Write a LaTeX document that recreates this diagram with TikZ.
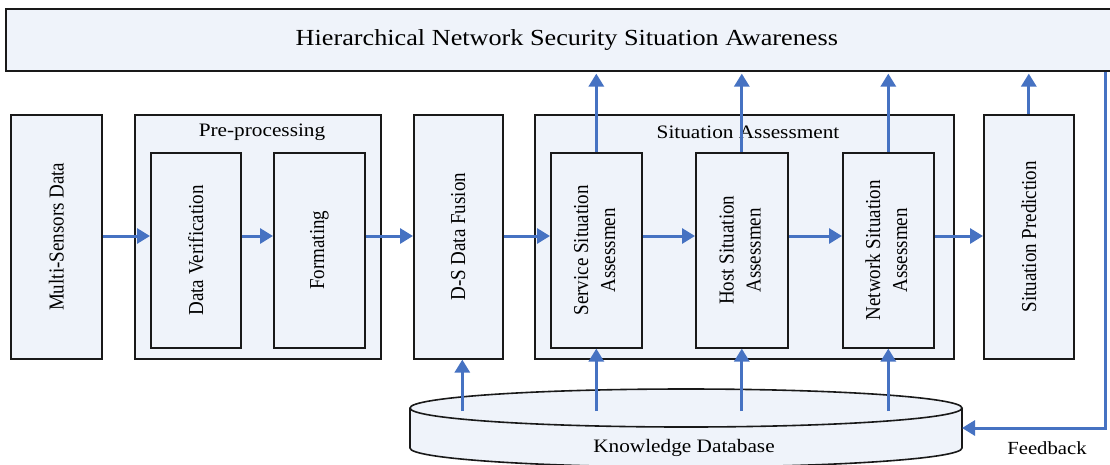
\documentclass[tikz,border=0pt]{standalone}
\usepackage{fontspec}
\setmainfont{Liberation Serif}
\usepackage{graphicx}
\usetikzlibrary{arrows.meta}
\definecolor{boxfill}{HTML}{EFF3FA}
\definecolor{arrowblue}{HTML}{4672C2}
\newcommand{\vtext}[1]{\rotatebox{90}{\scalebox{1}[1.12]{#1}}}
\newcommand{\htext}[1]{\scalebox{1.12}[1]{#1}}
\begin{document}
\begin{tikzpicture}[x=1pt,y=-1pt,
  box/.style={draw=black!90, line width=1.6pt, fill=boxfill, inner sep=0pt, anchor=north west},
  flow/.style={draw=arrowblue, line width=3pt, -{Triangle[length=13pt,width=15pt]}},
  lbl/.style={font=\fontsize{19}{24}\selectfont, inner sep=0pt},
  title/.style={font=\fontsize{23}{27}\selectfont, inner sep=0pt},
]
\useasboundingbox (0,0) rectangle (1110,464);
\clip (0,0) rectangle (1110,464);

% top box
\node[box, title, minimum width=1122pt, minimum height=62pt] (top) at (5,8)
  {\scalebox{1.14}[1]{Hierarchical Network Security Situation Awareness}};

% main boxes
\node[box, lbl, minimum width=91pt, minimum height=244pt] (multi) at (10,114) {\vtext{Multi-Sensors Data}};
\node[box, minimum width=246pt, minimum height=244pt] (pre) at (134,114) {};
\node[lbl] (prelbl) at (262,132) {\htext{Pre-processing}};
\node[box, lbl, minimum width=90pt, minimum height=195pt] (dv) at (150,152) {\vtext{Data Verification}};
\node[box, lbl, minimum width=91pt, minimum height=195pt] (fmt) at (273,152) {\vtext{Formating}};
\node[box, lbl, minimum width=89pt, minimum height=244pt] (ds) at (413,114) {\vtext{D-S Data Fusion}};
\node[box, minimum width=419pt, minimum height=244pt] (sa) at (534,114) {};
\node[lbl] (salbl) at (748,132) {\htext{Situation Assessment}};
\node[box, lbl, minimum width=91pt, minimum height=195pt] (svc) at (550,152)
  {\vtext{\begin{tabular}{@{}c@{}}Service Situation\\Assessmen\end{tabular}}};
\node[box, lbl, minimum width=92pt, minimum height=195pt] (host) at (695,152)
  {\vtext{\begin{tabular}{@{}c@{}}Host Situation\\Assessmen\end{tabular}}};
\node[box, lbl, minimum width=91pt, minimum height=195pt] (net) at (842,152)
  {\vtext{\begin{tabular}{@{}c@{}}Network Situation\\Assessmen\end{tabular}}};
\node[box, lbl, minimum width=90pt, minimum height=244pt] (pred) at (983,114) {\vtext{Situation Prediction}};

% knowledge database cylinder
\coordinate (db) at (686,408);
\filldraw[fill=boxfill, draw=black!90, line width=1.6pt]
  (410,408) -- (410,448) arc[start angle=180, end angle=0, x radius=276, y radius=19] -- (962,408);
\filldraw[fill=boxfill, draw=black!90, line width=1.6pt] (db) ellipse [x radius=276, y radius=19];
\node[lbl] (dblbl) at (684,448) {\htext{Knowledge Database}};
\node[lbl, font=\fontsize{18.5}{22}\selectfont] (fblbl) at (1047,448) {\htext{Feedback}};

% horizontal flow
\coordinate (row) at (0,236);
\draw[flow] (multi.east |- row) -- (dv.west |- row);
\draw[flow] (dv.east |- row) -- (fmt.west |- row);
\draw[flow] (fmt.east |- row) -- (ds.west |- row);
\draw[flow] (ds.east |- row) -- (svc.west |- row);
\draw[flow] (svc.east |- row) -- (host.west |- row);
\draw[flow] (host.east |- row) -- (net.west |- row);
\draw[flow] (net.east |- row) -- (pred.west |- row);

% up to awareness
\draw[flow, shorten >=2pt] (svc.north) -- (svc.north |- top.south);
\draw[flow, shorten >=2pt] (host.north) -- (host.north |- top.south);
\draw[flow, shorten >=2pt] (net.north) -- (net.north |- top.south);
\draw[flow, shorten >=2pt] (pred.north) -- (pred.north |- top.south);

% from database
\coordinate (dbtop) at (686,411);
\draw[flow] ([xshift=4pt]ds.south |- dbtop) -- ([xshift=4pt]ds.south);
\draw[flow] (svc.south |- dbtop) -- (svc.south);
\draw[flow] (host.south |- dbtop) -- (host.south);
\draw[flow] (net.south |- dbtop) -- (net.south);

% feedback
\coordinate (fbcorner) at (1105,428);
\coordinate (dbright) at (962,428);
\draw[flow] (top.south -| fbcorner) -- (fbcorner) -- (dbright);
\end{tikzpicture}
\end{document}
